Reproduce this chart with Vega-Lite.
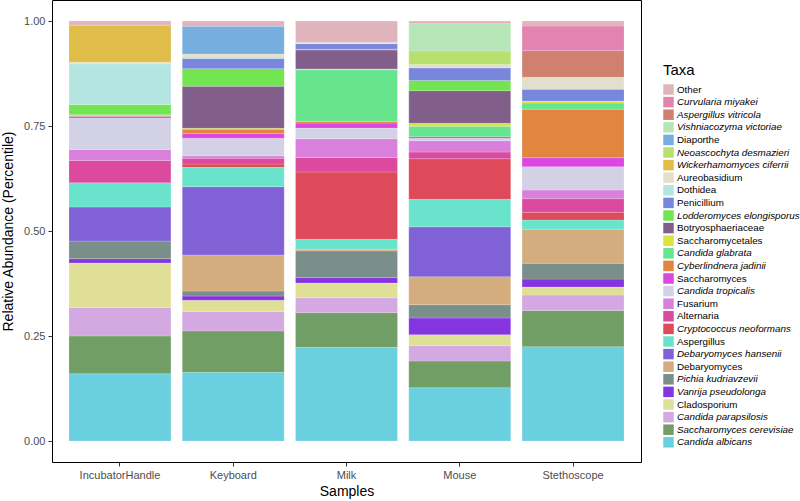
{
  "$schema": "https://vega.github.io/schema/vega-lite/v6.json",
  "width": 589,
  "height": 462,
  "autosize": {"type": "none"},
  "padding": {"left": 52, "top": 0, "right": 159, "bottom": 39},
  "background": "white",
  "config": {
    "font": "Liberation Sans",
    "view": {"stroke": "black", "strokeWidth": 1},
    "axis": {"domain": false, "grid": false, "tickColor": "#333333", "tickSize": 4, "labelColor": "#4d4d4d", "labelFontSize": 11, "titleFontSize": 14, "titleFontWeight": "normal", "titleColor": "black", "labelPadding": 3}
  },
  "datasets": {
    "taxa": [
      {"t": "Other", "r": 29},
      {"t": "Curvularia miyakei", "r": 28},
      {"t": "Aspergillus vitricola", "r": 27},
      {"t": "Vishniacozyma victoriae", "r": 26},
      {"t": "Diaporthe", "r": 25},
      {"t": "Neoascochyta desmazieri", "r": 24},
      {"t": "Wickerhamomyces ciferrii", "r": 23},
      {"t": "Aureobasidium", "r": 22},
      {"t": "Dothidea", "r": 21},
      {"t": "Penicillium", "r": 20},
      {"t": "Lodderomyces elongisporus", "r": 19},
      {"t": "Botryosphaeriaceae", "r": 18},
      {"t": "Saccharomycetales", "r": 17},
      {"t": "Candida glabrata", "r": 16},
      {"t": "Cyberlindnera jadinii", "r": 15},
      {"t": "Saccharomyces", "r": 14},
      {"t": "Candida tropicalis", "r": 13},
      {"t": "Fusarium", "r": 12},
      {"t": "Alternaria", "r": 11},
      {"t": "Cryptococcus neoformans", "r": 10},
      {"t": "Aspergillus", "r": 9},
      {"t": "Debaryomyces hansenii", "r": 8},
      {"t": "Debaryomyces", "r": 7},
      {"t": "Pichia kudriavzevii", "r": 6},
      {"t": "Vanrija pseudolonga", "r": 5},
      {"t": "Cladosporium", "r": 4},
      {"t": "Candida parapsilosis", "r": 3},
      {"t": "Saccharomyces cerevisiae", "r": 2},
      {"t": "Candida albicans", "r": 1}
    ]
  },
  "data": {"values": [
    {"s": "IncubatorHandle", "t": "Candida albicans", "v": 0.160},
    {"s": "IncubatorHandle", "t": "Saccharomyces cerevisiae", "v": 0.090},
    {"s": "IncubatorHandle", "t": "Candida parapsilosis", "v": 0.068},
    {"s": "IncubatorHandle", "t": "Cladosporium", "v": 0.106},
    {"s": "IncubatorHandle", "t": "Vanrija pseudolonga", "v": 0.010},
    {"s": "IncubatorHandle", "t": "Pichia kudriavzevii", "v": 0.042},
    {"s": "IncubatorHandle", "t": "Debaryomyces hansenii", "v": 0.081},
    {"s": "IncubatorHandle", "t": "Aspergillus", "v": 0.058},
    {"s": "IncubatorHandle", "t": "Alternaria", "v": 0.053},
    {"s": "IncubatorHandle", "t": "Fusarium", "v": 0.026},
    {"s": "IncubatorHandle", "t": "Candida tropicalis", "v": 0.075},
    {"s": "IncubatorHandle", "t": "Saccharomyces", "v": 0.004},
    {"s": "IncubatorHandle", "t": "Saccharomycetales", "v": 0.004},
    {"s": "IncubatorHandle", "t": "Lodderomyces elongisporus", "v": 0.024},
    {"s": "IncubatorHandle", "t": "Dothidea", "v": 0.097},
    {"s": "IncubatorHandle", "t": "Aureobasidium", "v": 0.004},
    {"s": "IncubatorHandle", "t": "Wickerhamomyces ciferrii", "v": 0.088},
    {"s": "IncubatorHandle", "t": "Other", "v": 0.010},

    {"s": "Keyboard", "t": "Candida albicans", "v": 0.1635},
    {"s": "Keyboard", "t": "Saccharomyces cerevisiae", "v": 0.0985},
    {"s": "Keyboard", "t": "Candida parapsilosis", "v": 0.046},
    {"s": "Keyboard", "t": "Cladosporium", "v": 0.027},
    {"s": "Keyboard", "t": "Vanrija pseudolonga", "v": 0.010},
    {"s": "Keyboard", "t": "Pichia kudriavzevii", "v": 0.012},
    {"s": "Keyboard", "t": "Debaryomyces", "v": 0.086},
    {"s": "Keyboard", "t": "Debaryomyces hansenii", "v": 0.1625},
    {"s": "Keyboard", "t": "Aspergillus", "v": 0.046},
    {"s": "Keyboard", "t": "Cryptococcus neoformans", "v": 0.008},
    {"s": "Keyboard", "t": "Alternaria", "v": 0.0135},
    {"s": "Keyboard", "t": "Fusarium", "v": 0.006},
    {"s": "Keyboard", "t": "Candida tropicalis", "v": 0.042},
    {"s": "Keyboard", "t": "Saccharomyces", "v": 0.011},
    {"s": "Keyboard", "t": "Cyberlindnera jadinii", "v": 0.0105},
    {"s": "Keyboard", "t": "Saccharomycetales", "v": 0.002},
    {"s": "Keyboard", "t": "Botryosphaeriaceae", "v": 0.100},
    {"s": "Keyboard", "t": "Lodderomyces elongisporus", "v": 0.042},
    {"s": "Keyboard", "t": "Penicillium", "v": 0.024},
    {"s": "Keyboard", "t": "Dothidea", "v": 0.004},
    {"s": "Keyboard", "t": "Aureobasidium", "v": 0.007},
    {"s": "Keyboard", "t": "Diaporthe", "v": 0.066},
    {"s": "Keyboard", "t": "Other", "v": 0.0125},

    {"s": "Milk", "t": "Candida albicans", "v": 0.223},
    {"s": "Milk", "t": "Saccharomyces cerevisiae", "v": 0.0825},
    {"s": "Milk", "t": "Candida parapsilosis", "v": 0.0355},
    {"s": "Milk", "t": "Cladosporium", "v": 0.035},
    {"s": "Milk", "t": "Vanrija pseudolonga", "v": 0.013},
    {"s": "Milk", "t": "Pichia kudriavzevii", "v": 0.0635},
    {"s": "Milk", "t": "Debaryomyces", "v": 0.004},
    {"s": "Milk", "t": "Aspergillus", "v": 0.024},
    {"s": "Milk", "t": "Cryptococcus neoformans", "v": 0.160},
    {"s": "Milk", "t": "Alternaria", "v": 0.0345},
    {"s": "Milk", "t": "Fusarium", "v": 0.0445},
    {"s": "Milk", "t": "Candida tropicalis", "v": 0.0255},
    {"s": "Milk", "t": "Saccharomyces", "v": 0.012},
    {"s": "Milk", "t": "Cyberlindnera jadinii", "v": 0.004},
    {"s": "Milk", "t": "Candida glabrata", "v": 0.123},
    {"s": "Milk", "t": "Saccharomycetales", "v": 0.002},
    {"s": "Milk", "t": "Botryosphaeriaceae", "v": 0.045},
    {"s": "Milk", "t": "Lodderomyces elongisporus", "v": 0.002},
    {"s": "Milk", "t": "Penicillium", "v": 0.013},
    {"s": "Milk", "t": "Aureobasidium", "v": 0.003},
    {"s": "Milk", "t": "Other", "v": 0.051},

    {"s": "Mouse", "t": "Candida albicans", "v": 0.127},
    {"s": "Mouse", "t": "Saccharomyces cerevisiae", "v": 0.0635},
    {"s": "Mouse", "t": "Candida parapsilosis", "v": 0.0365},
    {"s": "Mouse", "t": "Cladosporium", "v": 0.026},
    {"s": "Mouse", "t": "Vanrija pseudolonga", "v": 0.040},
    {"s": "Mouse", "t": "Pichia kudriavzevii", "v": 0.0315},
    {"s": "Mouse", "t": "Debaryomyces", "v": 0.0665},
    {"s": "Mouse", "t": "Debaryomyces hansenii", "v": 0.119},
    {"s": "Mouse", "t": "Aspergillus", "v": 0.0655},
    {"s": "Mouse", "t": "Cryptococcus neoformans", "v": 0.0965},
    {"s": "Mouse", "t": "Alternaria", "v": 0.016},
    {"s": "Mouse", "t": "Fusarium", "v": 0.027},
    {"s": "Mouse", "t": "Candida tropicalis", "v": 0.0057},
    {"s": "Mouse", "t": "Saccharomyces", "v": 0.004},
    {"s": "Mouse", "t": "Candida glabrata", "v": 0.0245},
    {"s": "Mouse", "t": "Saccharomycetales", "v": 0.0075},
    {"s": "Mouse", "t": "Botryosphaeriaceae", "v": 0.0775},
    {"s": "Mouse", "t": "Lodderomyces elongisporus", "v": 0.024},
    {"s": "Mouse", "t": "Penicillium", "v": 0.030},
    {"s": "Mouse", "t": "Aureobasidium", "v": 0.008},
    {"s": "Mouse", "t": "Neoascochyta desmazieri", "v": 0.0325},
    {"s": "Mouse", "t": "Vishniacozyma victoriae", "v": 0.065},
    {"s": "Mouse", "t": "Other", "v": 0.0063},

    {"s": "Stethoscope", "t": "Candida albicans", "v": 0.2245},
    {"s": "Stethoscope", "t": "Saccharomyces cerevisiae", "v": 0.0865},
    {"s": "Stethoscope", "t": "Candida parapsilosis", "v": 0.0365},
    {"s": "Stethoscope", "t": "Cladosporium", "v": 0.019},
    {"s": "Stethoscope", "t": "Vanrija pseudolonga", "v": 0.019},
    {"s": "Stethoscope", "t": "Pichia kudriavzevii", "v": 0.0375},
    {"s": "Stethoscope", "t": "Debaryomyces", "v": 0.081},
    {"s": "Stethoscope", "t": "Aspergillus", "v": 0.022},
    {"s": "Stethoscope", "t": "Cryptococcus neoformans", "v": 0.0185},
    {"s": "Stethoscope", "t": "Alternaria", "v": 0.0325},
    {"s": "Stethoscope", "t": "Fusarium", "v": 0.0205},
    {"s": "Stethoscope", "t": "Candida tropicalis", "v": 0.0555},
    {"s": "Stethoscope", "t": "Saccharomyces", "v": 0.0215},
    {"s": "Stethoscope", "t": "Cyberlindnera jadinii", "v": 0.1155},
    {"s": "Stethoscope", "t": "Candida glabrata", "v": 0.0148},
    {"s": "Stethoscope", "t": "Saccharomycetales", "v": 0.0047},
    {"s": "Stethoscope", "t": "Penicillium", "v": 0.028},
    {"s": "Stethoscope", "t": "Aureobasidium", "v": 0.0286},
    {"s": "Stethoscope", "t": "Aspergillus vitricola", "v": 0.0633},
    {"s": "Stethoscope", "t": "Curvularia miyakei", "v": 0.0587},
    {"s": "Stethoscope", "t": "Other", "v": 0.012}
  ]},
  "transform": [
    {"lookup": "t", "from": {"data": {"name": "taxa"}, "key": "t", "fields": ["r"]}}
  ],
  "mark": {"type": "bar", "stroke": "white", "strokeWidth": 0.3, "strokeOpacity": 0.6},
  "encoding": {
    "x": {
      "field": "s", "type": "nominal", "title": "Samples",
      "scale": {"paddingInner": 0.1, "paddingOuter": 0.15},
      "axis": {"labelAngle": 0, "titlePadding": 4}
    },
    "y": {
      "field": "v", "type": "quantitative", "stack": "zero",
      "title": "Relative Abundance (Percentile)",
      "scale": {"domain": [-0.05, 1.05], "nice": false, "zero": false},
      "axis": {"values": [0, 0.25, 0.5, 0.75, 1], "format": ".2f", "titlePadding": 8}
    },
    "order": {"field": "r", "type": "quantitative", "sort": "ascending"},
    "color": {
      "field": "t", "type": "nominal", "title": "Taxa",
      "scale": {
        "domain": ["Other", "Curvularia miyakei", "Aspergillus vitricola", "Vishniacozyma victoriae", "Diaporthe", "Neoascochyta desmazieri", "Wickerhamomyces ciferrii", "Aureobasidium", "Dothidea", "Penicillium", "Lodderomyces elongisporus", "Botryosphaeriaceae", "Saccharomycetales", "Candida glabrata", "Cyberlindnera jadinii", "Saccharomyces", "Candida tropicalis", "Fusarium", "Alternaria", "Cryptococcus neoformans", "Aspergillus", "Debaryomyces hansenii", "Debaryomyces", "Pichia kudriavzevii", "Vanrija pseudolonga", "Cladosporium", "Candida parapsilosis", "Saccharomyces cerevisiae", "Candida albicans"],
        "range": ["#e0b4bc", "#e283b0", "#d0806f", "#b6e6b8", "#76aee0", "#b7e06e", "#dfbd48", "#e2e0cc", "#b5e5e0", "#7886de", "#72e550", "#825f8b", "#dbe43e", "#67e48e", "#e2853f", "#db47e0", "#d2d1e6", "#d880dc", "#dc4aa0", "#de4a5a", "#69e3cc", "#8062d6", "#d4ad7f", "#7a8f8a", "#8535e0", "#e0df98", "#d4a8e0", "#719e64", "#6ad0e0"]
      },
      "legend": {
        "orient": "none", "legendX": 611, "legendY": 63,
        "titleFontSize": 15, "titleFontWeight": "normal", "titleColor": "black", "titlePadding": 6,
        "labelFontSize": 9.8, "labelColor": "black",
        "labelFontStyle": {"expr": "indexof(datum.label, ' ') > 0 ? 'italic' : 'normal'"},
        "labelLimit": 250,
        "symbolType": "square", "symbolSize": 110, "symbolStrokeWidth": 0, "symbolOpacity": 1,
        "rowPadding": 1.6, "labelOffset": 3
      }
    }
  }
}
